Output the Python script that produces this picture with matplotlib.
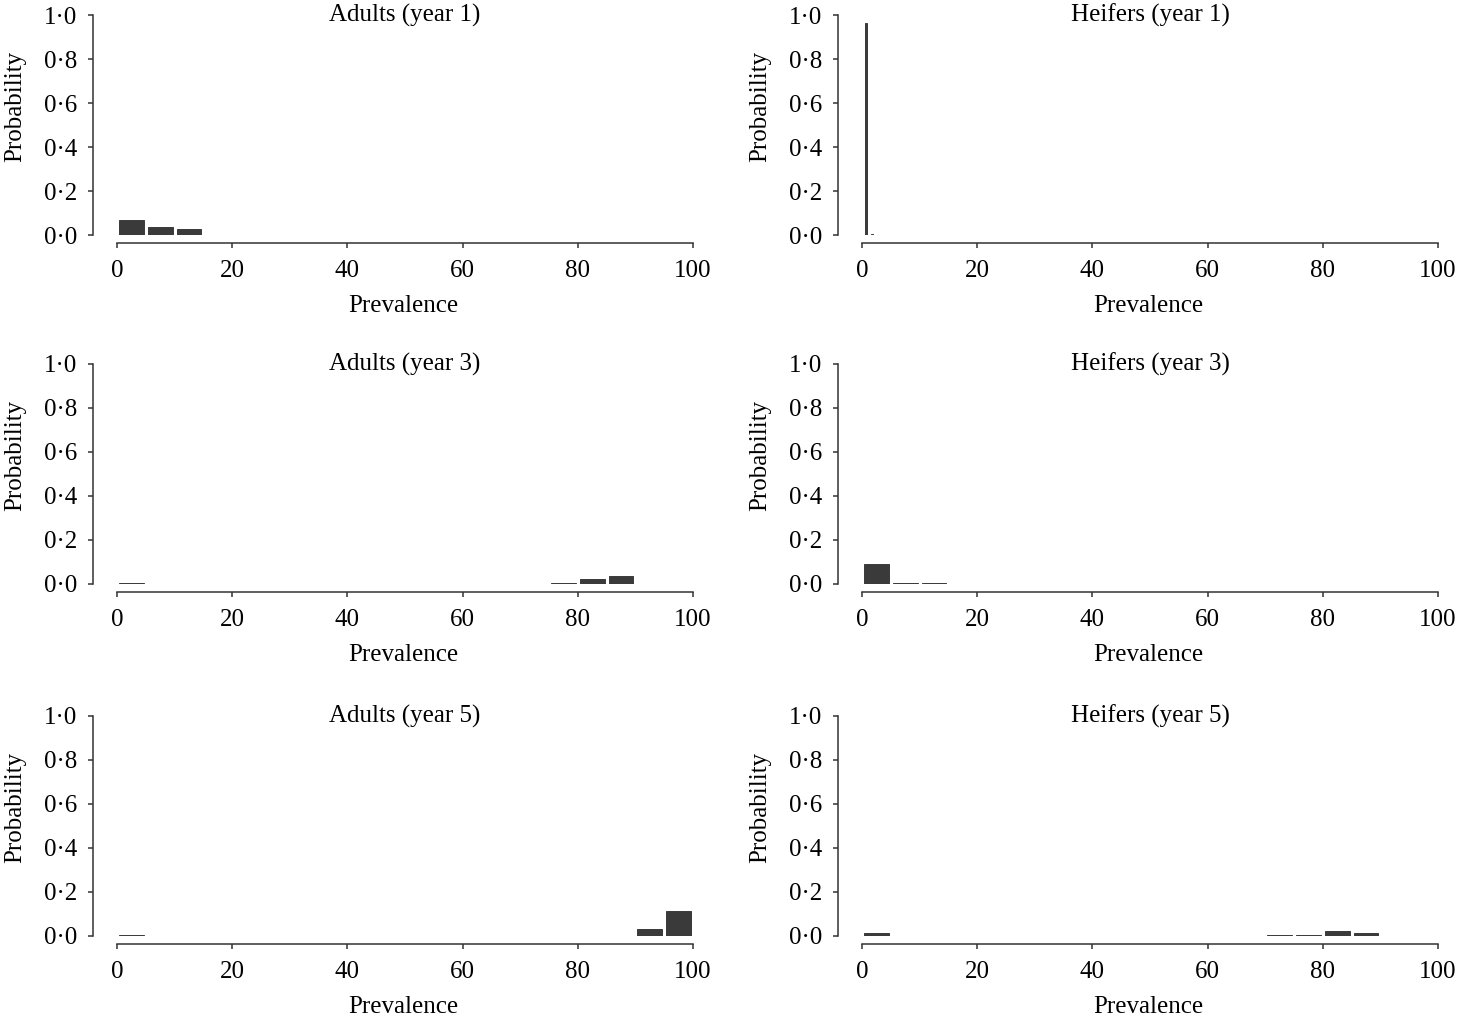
import matplotlib
matplotlib.use("Agg")
import matplotlib.pyplot as plt

plt.rcParams['font.family'] = ['Liberation Serif', 'DejaVu Serif']

# Data: prevalence bin centres and probabilities per panel
titles = ["Adults (year 1)", "Heifers (year 1)",
          "Adults (year 3)", "Heifers (year 3)",
          "Adults (year 5)", "Heifers (year 5)"]

adult_y1_x = [2.5, 7.5, 12.5]
adult_y1_p = [0.068, 0.037, 0.026]

heifer_y1_x = [0.65, 1.75]
heifer_y1_p = [0.965, 0.005]

adult_y3_x = [2.5, 77.5, 82.5, 87.5]
adult_y3_p = [0.005, 0.005, 0.022, 0.037]

heifer_y3_x = [2.5, 7.5, 12.5]
heifer_y3_p = [0.09, 0.005, 0.005]

adult_y5_x = [2.5, 92.5, 97.5]
adult_y5_p = [0.005, 0.033, 0.113]

heifer_y5_x = [2.5, 72.5, 77.5, 82.5, 87.5]
heifer_y5_p = [0.012, 0.005, 0.005, 0.025, 0.014]

bar_widths = [4.3, 0.3, 4.3, 4.3, 4.3, 4.3]

xticks = [0, 20, 40, 60, 80, 100]
yticks = [0.0, 0.2, 0.4, 0.6, 0.8, 1.0]
ytick_labels = ["0·0", "0·2", "0·4", "0·6", "0·8", "1·0"]

series = [(adult_y1_x, adult_y1_p), (heifer_y1_x, heifer_y1_p),
          (adult_y3_x, adult_y3_p), (heifer_y3_x, heifer_y3_p),
          (adult_y5_x, adult_y5_p), (heifer_y5_x, heifer_y5_p)]

W, H = 1458, 1026
fig = plt.figure(figsize=(W / 100, H / 100), dpi=100)

lefts = [93, 838]
tops = [15, 364, 716]
ax_w_px = 600
ax_h_px = 220

bar_color = '#3a3a3a'
spine_color = '#333333'
fs = 18

for i, (title, (xs, ps)) in enumerate(zip(titles, series)):
    row, col = divmod(i, 2)
    l = lefts[col] / W
    b = 1 - (tops[row] + ax_h_px) / H
    ax = fig.add_axes([l, b, ax_w_px / W, ax_h_px / H])
    ax.bar(xs, ps, width=bar_widths[i], color=bar_color,
           edgecolor=bar_color, linewidth=0.7)
    ax.set_xlim(-4.15, 100)
    ax.set_ylim(0, 1.0)
    ax.set_xticks(xticks)
    ax.set_yticks(yticks)
    ax.set_yticklabels(ytick_labels)
    ax.spines['top'].set_visible(False)
    ax.spines['right'].set_visible(False)
    ax.spines['bottom'].set_bounds(0, 100)
    ax.spines['bottom'].set_position(('outward', 6))
    ax.spines['left'].set_bounds(0, 1.0)
    for s in ('bottom', 'left'):
        ax.spines[s].set_color(spine_color)
        ax.spines[s].set_linewidth(1.1)
    ax.tick_params(axis='both', direction='out', length=3.6, width=1.1,
                   color=spine_color, labelsize=fs)
    ax.tick_params(axis='y', pad=8)
    ax.tick_params(axis='x', pad=8.5)
    ax.patch.set_visible(False)
    ax.set_xlabel("Prevalence", fontsize=fs)
    ax.xaxis.set_label_coords(0.517, -0.323)
    ax.xaxis.label.set_verticalalignment('center')
    ax.set_ylabel("Probability", fontsize=fs)
    ax.yaxis.set_label_coords(-0.13, 0.586)
    ax.yaxis.label.set_verticalalignment('center')
    ax.text(50, 1.0, title, ha='center', va='center', fontsize=fs)

fig.savefig("out.png", dpi=100)
